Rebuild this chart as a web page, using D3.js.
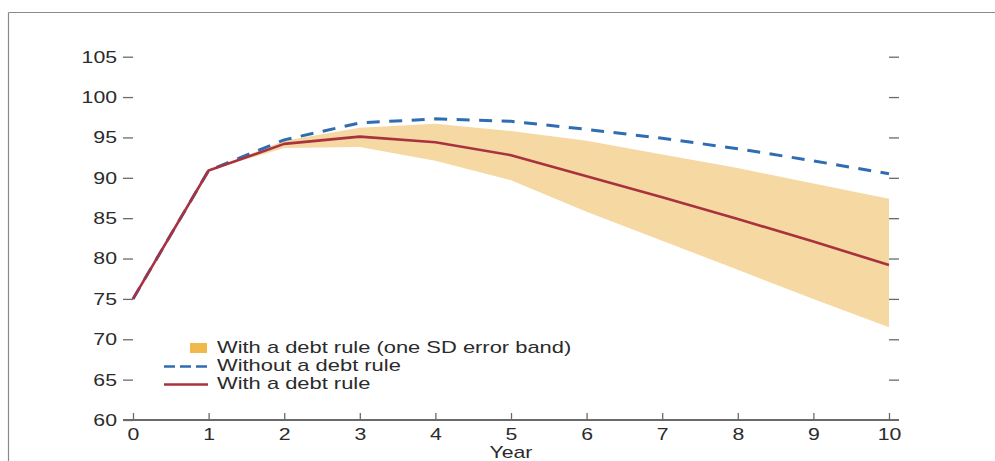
<!DOCTYPE html>
<html>
<head>
<meta charset="utf-8">
<script src="https://cdn.jsdelivr.net/npm/d3@7"></script>
<style>
  html, body { margin: 0; padding: 0; background: #fff; }
  svg { display: block; }
  text { font-family: "Liberation Sans", Arial, Helvetica, sans-serif; fill: #2b2b2b; }
</style>
</head>
<body>
<svg id="chart" width="995" height="461"></svg>
<script>
// Debt path projections (percent), years after the shock
const years = [0, 1, 2, 3, 4, 5, 6, 7, 8, 9, 10];
const withRule = [75, 90.9, 94.2, 95.1, 94.4, 92.8, 90.2, 87.6, 84.9, 82.1, 79.2];
const withoutRule = [75, 90.9, 94.7, 96.8, 97.3, 97.0, 96.0, 94.9, 93.6, 92.1, 90.5];

// One standard deviation error band around the "with a debt rule" path
const bandYears = [1, 2, 3, 4, 5, 6, 7, 8, 9, 10];
const bandUpper = [90.9, 94.6, 96.2, 96.7, 95.8, 94.6, 92.9, 91.2, 89.3, 87.4];
const bandLower = [90.9, 93.7, 93.8, 92.1, 89.7, 85.8, 82.2, 78.6, 75.0, 71.5];

const yTicks = [60, 65, 70, 75, 80, 85, 90, 95, 100, 105];
const xTicks = [0, 1, 2, 3, 4, 5, 6, 7, 8, 9, 10];

const legendItems = [
  { type: "band", label: "With a debt rule (one SD error band)" },
  { type: "dash", label: "Without a debt rule" },
  { type: "line", label: "With a debt rule" }
];

const colors = {
  band: "#F5D8A2",
  bandKey: "#EFB94B",
  red: "#A9323F",
  blue: "#2F6DB2",
  axis: "#6a6a6a",
  frame: "#8a8a8a"
};

const STRETCH = 1.25;          // horizontal stretch of the axis lettering
const FONT = 17;
const LEGEND_FONT = 16;
const LEGEND_STRETCH = 1.37;   // legend lettering is set a little wider

const svg = d3.select("#chart");

// outer frame (top and left edges)
svg.append("line").attr("x1", 8.5).attr("x2", 995).attr("y1", 12.5).attr("y2", 12.5)
  .attr("stroke", colors.frame).attr("stroke-width", 1.2);
svg.append("line").attr("x1", 8.5).attr("x2", 8.5).attr("y1", 12.5).attr("y2", 461)
  .attr("stroke", colors.frame).attr("stroke-width", 1.2);

const x = d3.scaleLinear().domain([0, 10]).range([133, 889]);
const y = d3.scaleLinear().domain([60, 105]).range([420, 56.7]);

// error band
const area = d3.area()
  .x((d, i) => x(bandYears[i]))
  .y0((d, i) => y(bandLower[i]))
  .y1((d, i) => y(bandUpper[i]));
svg.append("path").datum(bandYears).attr("d", area).attr("fill", colors.band);

// stretched text helper
function stretchText(sel) {
  sel.each(function () {
    const t = d3.select(this);
    const xv = +t.attr("x") || 0;
    t.attr("x", xv / STRETCH).attr("transform", `scale(${STRETCH},1)`);
  });
}

// left axis: outward ticks with labels
const gLeft = svg.append("g").attr("transform", `translate(${x(0)},0)`)
  .call(d3.axisLeft(y).tickValues(yTicks).tickSize(10).tickPadding(6).tickFormat(d3.format("d")));
gLeft.select(".domain").remove();
gLeft.selectAll(".tick line").attr("stroke", colors.axis).attr("stroke-width", 1.3);
gLeft.selectAll(".tick text").attr("font-size", FONT).style("font-family", "Liberation Sans, Arial, sans-serif")
  .attr("fill", "#2b2b2b").call(stretchText);

// right axis: outward ticks, no labels
const gRight = svg.append("g").attr("transform", `translate(${x(10)},0)`)
  .call(d3.axisRight(y).tickValues(yTicks).tickSize(10).tickFormat(""));
gRight.select(".domain").remove();
gRight.selectAll(".tick line").attr("stroke", colors.axis).attr("stroke-width", 1.3);
gRight.selectAll(".tick").filter(d => d === 60).remove();

// bottom axis: inward ticks, labels below
const gBottom = svg.append("g").attr("transform", `translate(0,${y(60)})`)
  .call(d3.axisBottom(x).tickValues(xTicks).tickSizeInner(-7).tickSizeOuter(0).tickPadding(8).tickFormat(d3.format("d")));
gBottom.select(".domain").remove();
gBottom.insert("line", ":first-child").attr("x1", x(0) - 10).attr("x2", x(10) + 10).attr("y1", 0).attr("y2", 0)
  .attr("stroke", colors.axis).attr("stroke-width", 2);
gBottom.selectAll(".tick line").attr("stroke", colors.axis).attr("stroke-width", 1.3);
gBottom.selectAll(".tick text").attr("font-size", FONT).style("font-family", "Liberation Sans, Arial, sans-serif")
  .attr("fill", "#2b2b2b").call(stretchText);

svg.append("text").attr("x", x(5) / STRETCH).attr("y", 458)
  .attr("transform", `scale(${STRETCH},1)`)
  .attr("text-anchor", "middle").attr("font-size", FONT).text("Year");

// paths
const line = d3.line().x((d, i) => x(years[i])).y(d => y(d));
svg.append("path").datum(withoutRule).attr("d", line)
  .attr("fill", "none").attr("stroke", colors.blue).attr("stroke-width", 3)
  .attr("stroke-dasharray", "13,9.5");
svg.append("path").datum(withRule).attr("d", line)
  .attr("fill", "none").attr("stroke", colors.red).attr("stroke-width", 2.6)
  .attr("stroke-linejoin", "round");

// legend
const lg = svg.append("g");
const rowY = [353, 371, 389];
legendItems.forEach((item, i) => {
  const by = rowY[i];
  if (item.type === "band") {
    lg.append("rect").attr("x", 190).attr("y", by - 10).attr("width", 17).attr("height", 10)
      .attr("fill", colors.bandKey);
  } else if (item.type === "dash") {
    lg.append("line").attr("x1", 164).attr("x2", 208).attr("y1", by - 4.5).attr("y2", by - 4.5)
      .attr("stroke", colors.blue).attr("stroke-width", 2.5).attr("stroke-dasharray", "11,5");
  } else {
    lg.append("line").attr("x1", 164).attr("x2", 208).attr("y1", by - 4.5).attr("y2", by - 4.5)
      .attr("stroke", colors.red).attr("stroke-width", 2.6);
  }
  lg.append("text").attr("x", 217 / LEGEND_STRETCH).attr("y", by)
    .attr("transform", `scale(${LEGEND_STRETCH},1)`)
    .attr("font-size", LEGEND_FONT).text(item.label);
});
</script>
</body>
</html>
